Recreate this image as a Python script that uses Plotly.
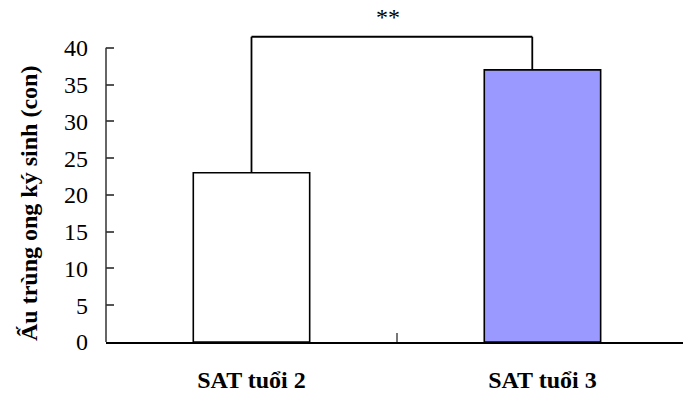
import plotly.graph_objects as go

categories = ["SAT tuổi 2", "SAT tuổi 3"]
values = [23, 37]
bar_colors = ["#FFFFFF", "#9999FF"]
y_ticks = [0, 5, 10, 15, 20, 25, 30, 35, 40]
y_title = "Ấu trùng ong ký sinh (con)"
sig_label = "**"
bracket_top = 41.5

FONT = "Liberation Serif, Times New Roman, serif"

fig = go.Figure()
fig.add_trace(go.Bar(
    x=categories, y=values,
    marker=dict(color=bar_colors, line=dict(color="#000000", width=1.6)),
    width=0.4,
))

# significance bracket
fig.add_shape(type="line", xref="x", yref="y", x0=0, x1=0, y0=values[0], y1=bracket_top,
              line=dict(color="#000000", width=1.8))
fig.add_shape(type="line", xref="x", yref="y", x0=0, x1=0.965, y0=bracket_top, y1=bracket_top,
              line=dict(color="#000000", width=1.8))
fig.add_shape(type="line", xref="x", yref="y", x0=0.965, x1=0.965, y0=bracket_top, y1=values[1],
              line=dict(color="#000000", width=1.8))
fig.add_annotation(x=0.47, y=44.2, xref="x", yref="y", text=sig_label, showarrow=False,
                   font=dict(family=FONT, size=24, color="#000000"))

# y axis line only up to 40
fig.add_shape(type="line", xref="paper", yref="y", x0=0, x1=0, y0=0, y1=max(y_ticks),
              line=dict(color="#333333", width=1.5))

fig.add_annotation(x=-77/577, y=(342-204)/331, xref="paper", yref="paper", text="<b>" + y_title + "</b>",
                   textangle=-90, showarrow=False, xanchor="center", yanchor="middle",
                   font=dict(family=FONT, size=24, color="#000000"))

fig.update_layout(
    width=683, height=396,
    margin=dict(l=106, r=0, t=11, b=54, autoexpand=False),
    paper_bgcolor="white", plot_bgcolor="white",
    showlegend=False,
    xaxis=dict(
        range=[-0.5, 1.483], automargin=False,
        showline=True, linecolor="#000000", linewidth=1.5,
        ticks="inside", tickson="boundaries", ticklen=9, tickcolor="#777777", tickwidth=2,
        tickfont=dict(family=FONT, size=24, color="#000000", weight="bold"),
        ticklabelstandoff=15,
        showgrid=False, zeroline=False,
    ),
    yaxis=dict(
        range=[0, 45], tickvals=y_ticks, automargin=False,
        showline=False,
        ticks="inside", ticklen=8, tickcolor="#555555", tickwidth=1.5,
        tickfont=dict(family=FONT, size=24, color="#000000"),
        ticklabelstandoff=17,
        showgrid=False, zeroline=False,
    ),
)

fig.write_html("out.html", config={"displayModeBar": False},
               post_script="document.body.style.margin='0px';document.body.style.overflow='hidden';")
